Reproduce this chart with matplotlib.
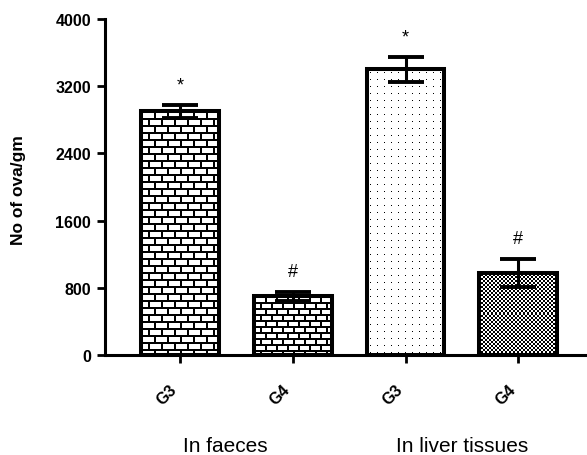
import numpy as np
import matplotlib.pyplot as plt

plt.rcParams['font.family'] = ['Liberation Sans', 'DejaVu Sans']

# data
groups = ['In faeces', 'In liver tissues']
labels = ['G3', 'G4', 'G3', 'G4']
means = [2900, 700, 3400, 980]
errors = [75, 55, 145, 165]
marks = ['*', '#', '*', '#']
fills = ['brick', 'brick_dense', 'dots', 'check']
yticks = [0, 800, 1600, 2400, 3200, 4000]


def make_fill(kind, h, w):
    """pixel pattern for the inside of a bar, 1 = white, 0 = black"""
    yy, xx = np.mgrid[0:h, 0:w]
    img = np.ones((h, w))
    if kind in ('brick', 'brick_dense'):
        if kind == 'brick':
            rh, bw, lw = 7, 13, 2
        else:
            rh, bw, lw = 6, 11, 2
        row = yy // rh
        img[(yy % rh) < lw] = 0
        img[((xx + (row % 2) * (bw // 2)) % bw) < lw] = 0
    elif kind == 'dots':
        img[((yy % 7) == 3) & ((xx % 7) == 3)] = 0
    elif kind == 'check':
        img = ((yy // 2 + xx // 2) % 2).astype(float)
    return img


fig = plt.figure(figsize=(5.87, 4.56), dpi=100)
ax = fig.add_axes([105 / 587, 100 / 456, 482 / 587, 336 / 456])

x = np.arange(len(means))
width = 0.69
ax.set_xlim(-0.666, 3.61)
ax.set_ylim(0, 4000)

fig.canvas.draw()
for xi, m, kind in zip(x, means, fills):
    p0 = ax.transData.transform((xi - width / 2, 0))
    p1 = ax.transData.transform((xi + width / 2, m))
    w_px = int(round(p1[0] - p0[0]))
    h_px = int(round(p1[1] - p0[1]))
    ax.imshow(make_fill(kind, h_px, w_px), cmap='gray', vmin=0, vmax=1,
              extent=(xi - width / 2, xi + width / 2, 0, m), origin='upper',
              interpolation='nearest', aspect='auto', zorder=1)

ax.bar(x, means, width, facecolor='none', edgecolor='black', linewidth=2.9, zorder=2)
ax.errorbar(x, means, yerr=errors, fmt='none', ecolor='black', elinewidth=2.2,
            capsize=13, capthick=2.8, zorder=3)

for xi, m, e, s in zip(x, means, errors, marks):
    ax.text(xi, m + e + 240, s, ha='center', va='center', fontsize=13)

ax.set_xlim(-0.666, 3.61)
ax.set_ylim(0, 4000)
ax.set_yticks(yticks)
ax.set_yticklabels([str(t) for t in yticks], fontweight='bold', fontsize=11.5)
ax.set_xticks(x)
ax.set_xticklabels(labels, rotation=45, ha='right', fontweight='bold', fontsize=11.5)

ax.spines['top'].set_visible(False)
ax.spines['right'].set_visible(False)
for side in ('left', 'bottom'):
    ax.spines[side].set_linewidth(2.2)
ax.tick_params(axis='y', length=6, width=2, pad=4)
ax.tick_params(axis='x', length=6, width=2, pad=13)

for gx, g in zip([0.4, 2.5], groups):
    ax.text(gx, -0.27, g, transform=ax.get_xaxis_transform(), ha='center',
            va='center', fontsize=15)

fig.text(19 / 587, 1 - 190 / 456, 'No of ova/gm', rotation=90, ha='center',
         va='center', fontweight='bold', fontsize=12.5)

fig.savefig('out.png', dpi=100)
